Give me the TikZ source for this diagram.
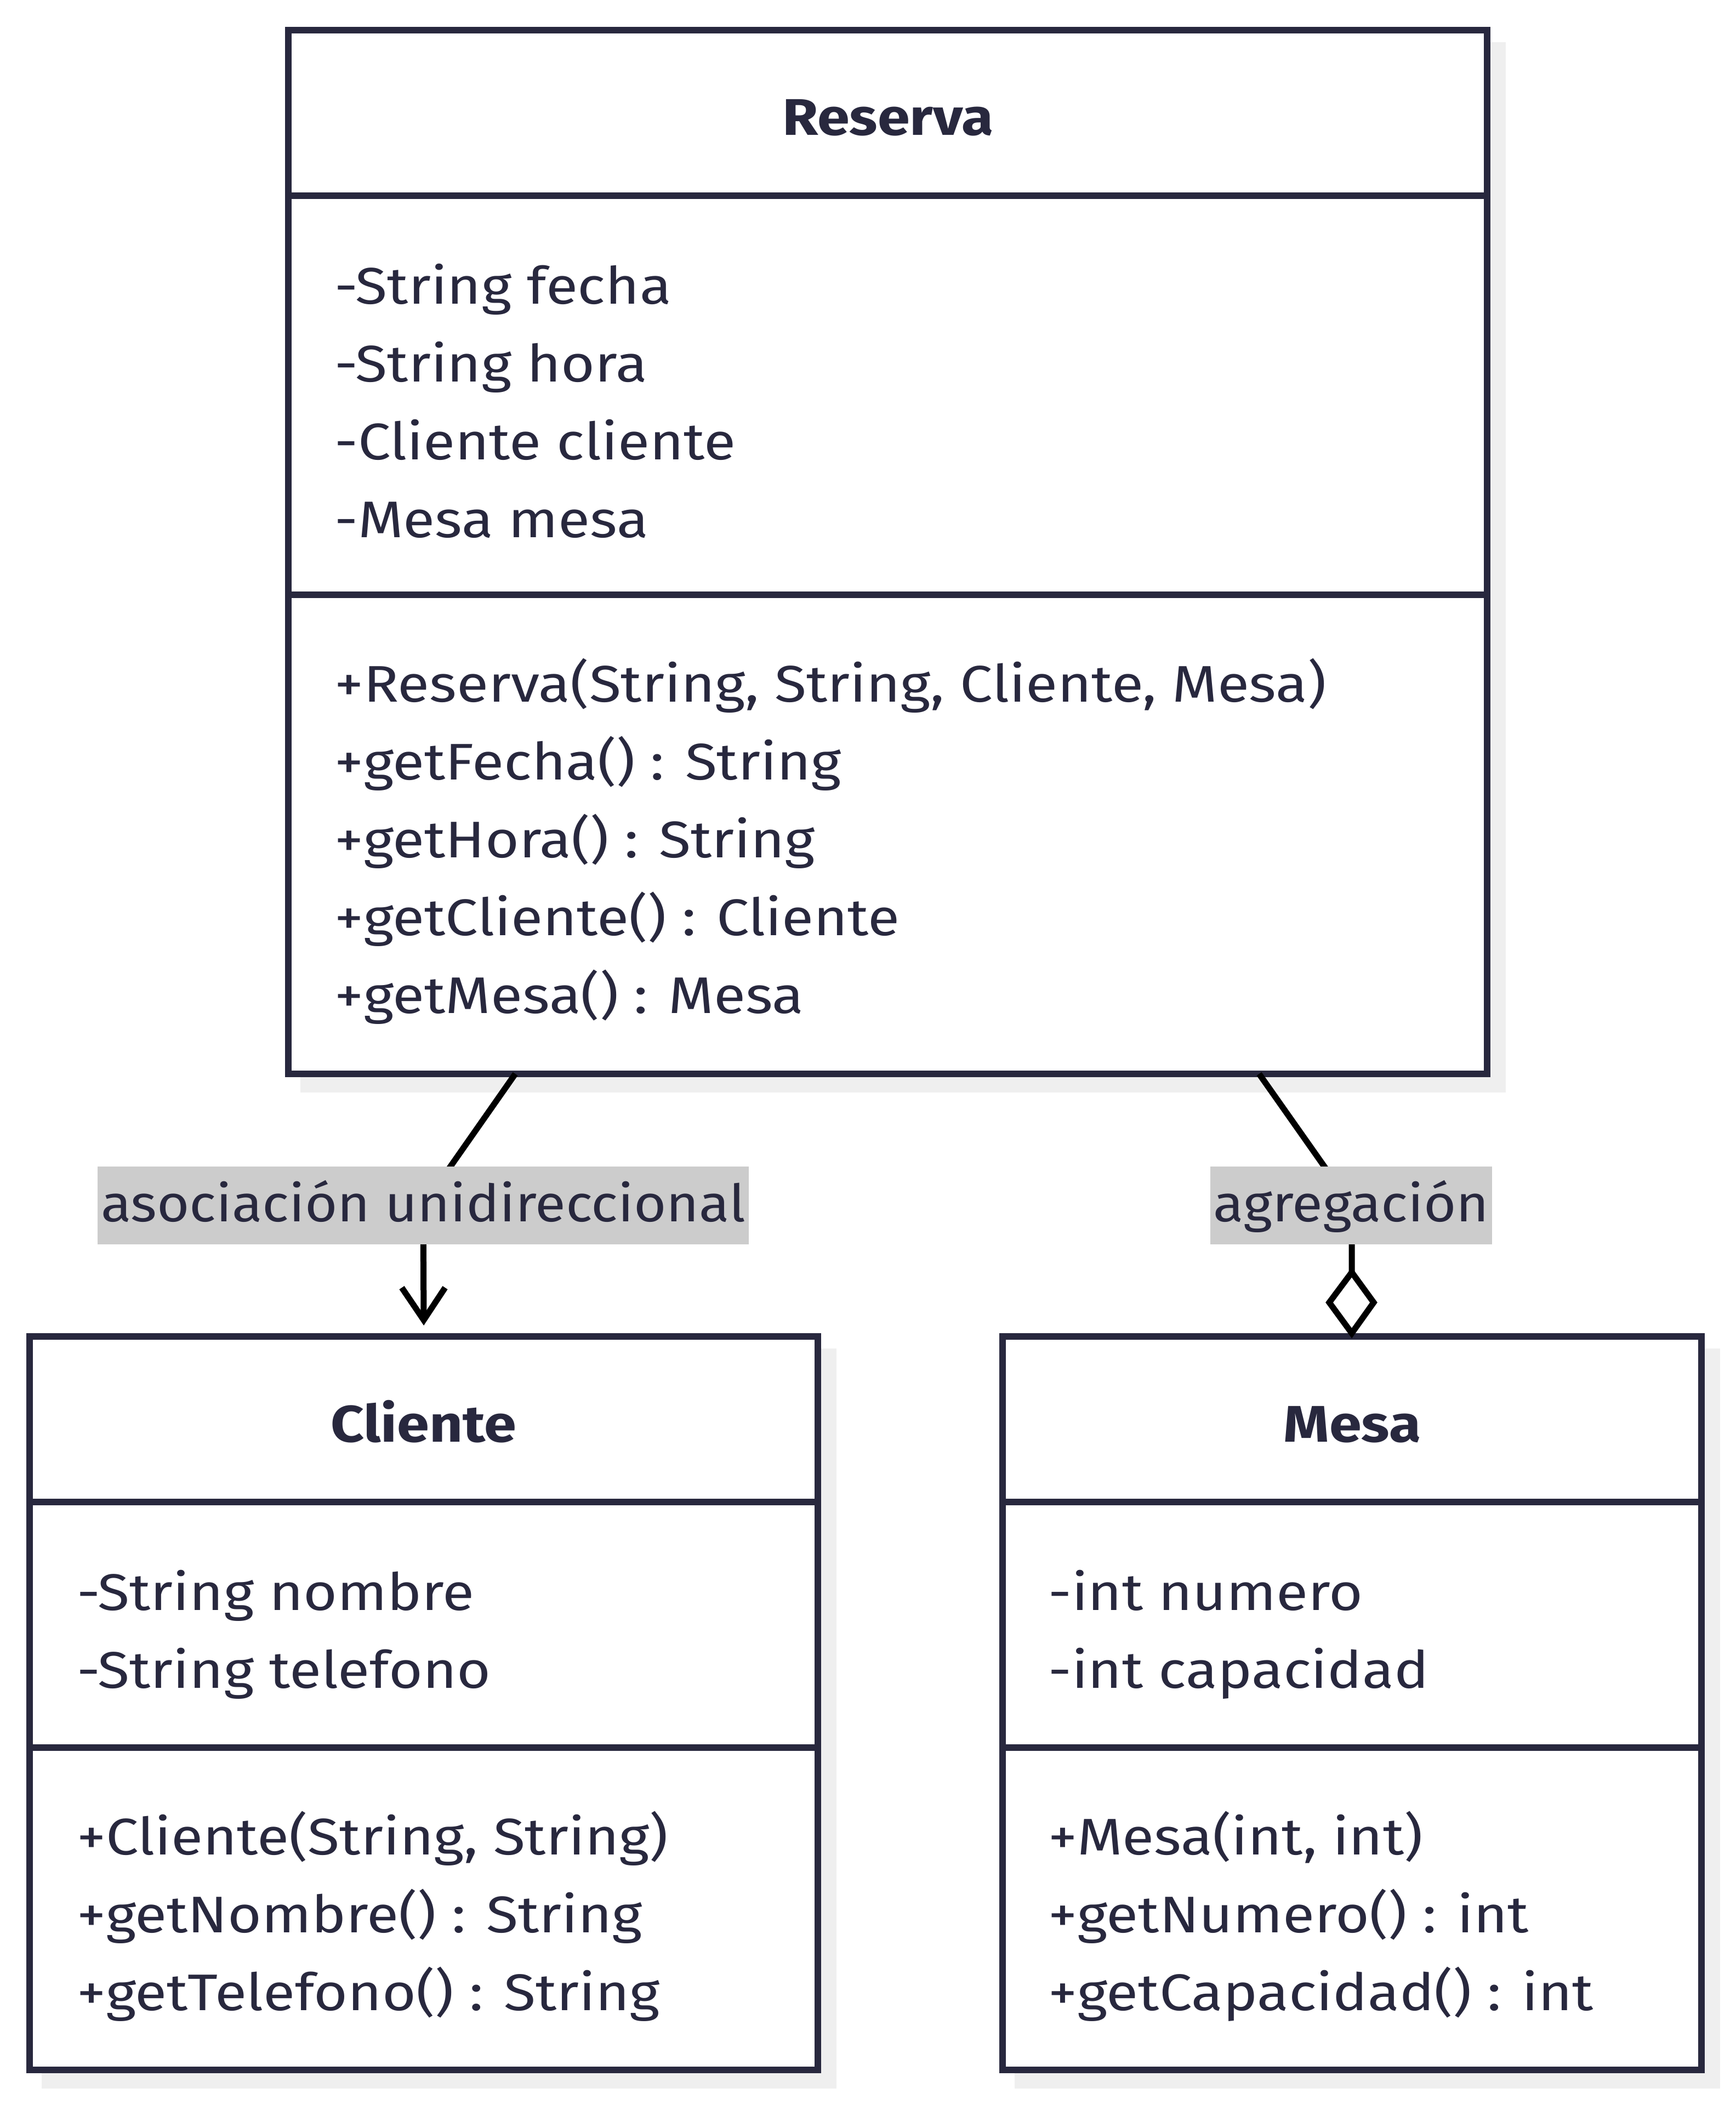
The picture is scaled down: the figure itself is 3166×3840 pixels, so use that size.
\documentclass[tikz,border=0pt]{standalone}
\usepackage{fontspec}
\setmainfont[FakeStretch=1.13]{Fira Sans}
\newfontfamily\lblfont[FakeStretch=1.085]{Fira Sans}
\usetikzlibrary{backgrounds,calc}
\definecolor{ink}{RGB}{40,40,62}
\definecolor{shade}{RGB}{239,239,239}
\definecolor{lblbg}{RGB}{204,204,204}
\tikzset{
  umlbox/.style={draw=ink, line width=12pt, fill=white, rectangle, inner sep=0pt, outer sep=0pt, anchor=north west},
  sepline/.style={draw=ink, line width=12pt},
  txt/.style={anchor=base west, inner sep=0pt, text=ink, font=\fontsize{94}{113}\selectfont},
  ttl/.style={anchor=base, inner sep=0pt, text=ink, font=\fontsize{94}{113}\selectfont\bfseries},
  conn/.style={draw=black, line width=11pt},
  lbl/.style={anchor=base, fill=lblbg, text=ink, font=\lblfont\fontsize{94}{113}\selectfont, inner xsep=6pt, inner ysep=0pt, text height=100pt, text depth=42pt},
  shadowbox/.style={fill=shade}
}
\begin{document}
\begin{tikzpicture}[x=1pt,y=-1pt]
\useasboundingbox (0,0) rectangle (3166,3840);
% boxes
\node[umlbox, minimum width=2187pt, minimum height=1904pt] (reserva) at (526,55) {};
\node[umlbox, minimum width=1438pt, minimum height=1338pt] (cliente) at (54,2438) {};
\node[umlbox, minimum width=1275pt, minimum height=1338pt] (mesa) at (1829,2438) {};
% shadows
\begin{scope}[on background layer]
  \fill[shadowbox] ($(reserva.north west)+(22,22)$) rectangle ($(reserva.south east)+(34,34)$);
  \fill[shadowbox] ($(cliente.north west)+(22,22)$) rectangle ($(cliente.south east)+(34,34)$);
  \fill[shadowbox] ($(mesa.north west)+(22,22)$) rectangle ($(mesa.south east)+(34,34)$);
\end{scope}
% separators
\draw[sepline] ($(reserva.north west)+(0,302)$) -- ($(reserva.north east)+(0,302)$);
\draw[sepline] ($(reserva.north west)+(0,1030)$) -- ($(reserva.north east)+(0,1030)$);
\draw[sepline] ($(cliente.north west)+(0,302)$) -- ($(cliente.north east)+(0,302)$);
\draw[sepline] ($(cliente.north west)+(0,750)$) -- ($(cliente.north east)+(0,750)$);
\draw[sepline] ($(mesa.north west)+(0,302)$) -- ($(mesa.north east)+(0,302)$);
\draw[sepline] ($(mesa.north west)+(0,750)$) -- ($(mesa.north east)+(0,750)$);
% Reserva text
\node[ttl] (rt) at (1620,247) {Reserva};
\node[txt] (ra1) at (610,554) {-String fecha};
\node[txt] (ra2) at (610,696) {-String hora};
\node[txt] (ra3) at (610,838) {-Cliente cliente};
\node[txt] (ra4) at (610,980) {-Mesa mesa};
\node[txt] (rm1) at (610,1280) {+Reserva(String, String, Cliente, Mesa)};
\node[txt] (rm2) at (610,1422) {+getFecha() : String};
\node[txt] (rm3) at (610,1564) {+getHora() : String};
\node[txt] (rm4) at (610,1706) {+getCliente() : Cliente};
\node[txt] (rm5) at (610,1848) {+getMesa() : Mesa};
% Cliente text
\node[ttl] (ct) at (773,2630) {Cliente};
\node[txt] (ca1) at (140,2937) {-String nombre};
\node[txt] (ca2) at (140,3079) {-String telefono};
\node[txt] (cm1) at (140,3383) {+Cliente(String, String)};
\node[txt] (cm2) at (140,3525) {+getNombre() : String};
\node[txt] (cm3) at (140,3667) {+getTelefono() : String};
% Mesa text
\node[ttl] (mt) at (2467,2630) {Mesa};
\node[txt] (ma1) at (1912,2937) {-int numero};
\node[txt] (ma2) at (1912,3079) {-int capacidad};
\node[txt] (mm1) at (1912,3383) {+Mesa(int, int)};
\node[txt] (mm2) at (1912,3525) {+getNumero() : int};
\node[txt] (mm3) at (1912,3667) {+getCapacidad() : int};
% connectors
\coordinate (s1) at ($(reserva.south west)+(414,0)$);
\coordinate (b1) at (772,2199);
\coordinate (t1) at ($(cliente.north)+(0,-30)$);
\draw[conn, line join=round] (s1) -- (b1) -- (t1);
\draw[conn, line join=miter] ($(t1)+(-40,-59)$) -- (t1) -- ($(t1)+(39,-59)$);
\coordinate (s2) at ($(reserva.south west)+(1771,0)$);
\coordinate (b2) at (2466,2199);
\coordinate (d2) at (2466,2432);
\draw[conn, line join=round] (s2) -- (b2) -- ($(d2)+(0,-111)$);
\draw[conn, line join=miter, fill=white] (d2) -- ($(d2)+(-41,-56)$) -- ($(d2)+(0,-111)$) -- ($(d2)+(40,-56)$) -- cycle;
% labels
\node[lbl] (l1) at (772,2228) {asociación unidireccional};
\node[lbl] (l2) at (2465,2228) {agregación};
\end{tikzpicture}
\end{document}
